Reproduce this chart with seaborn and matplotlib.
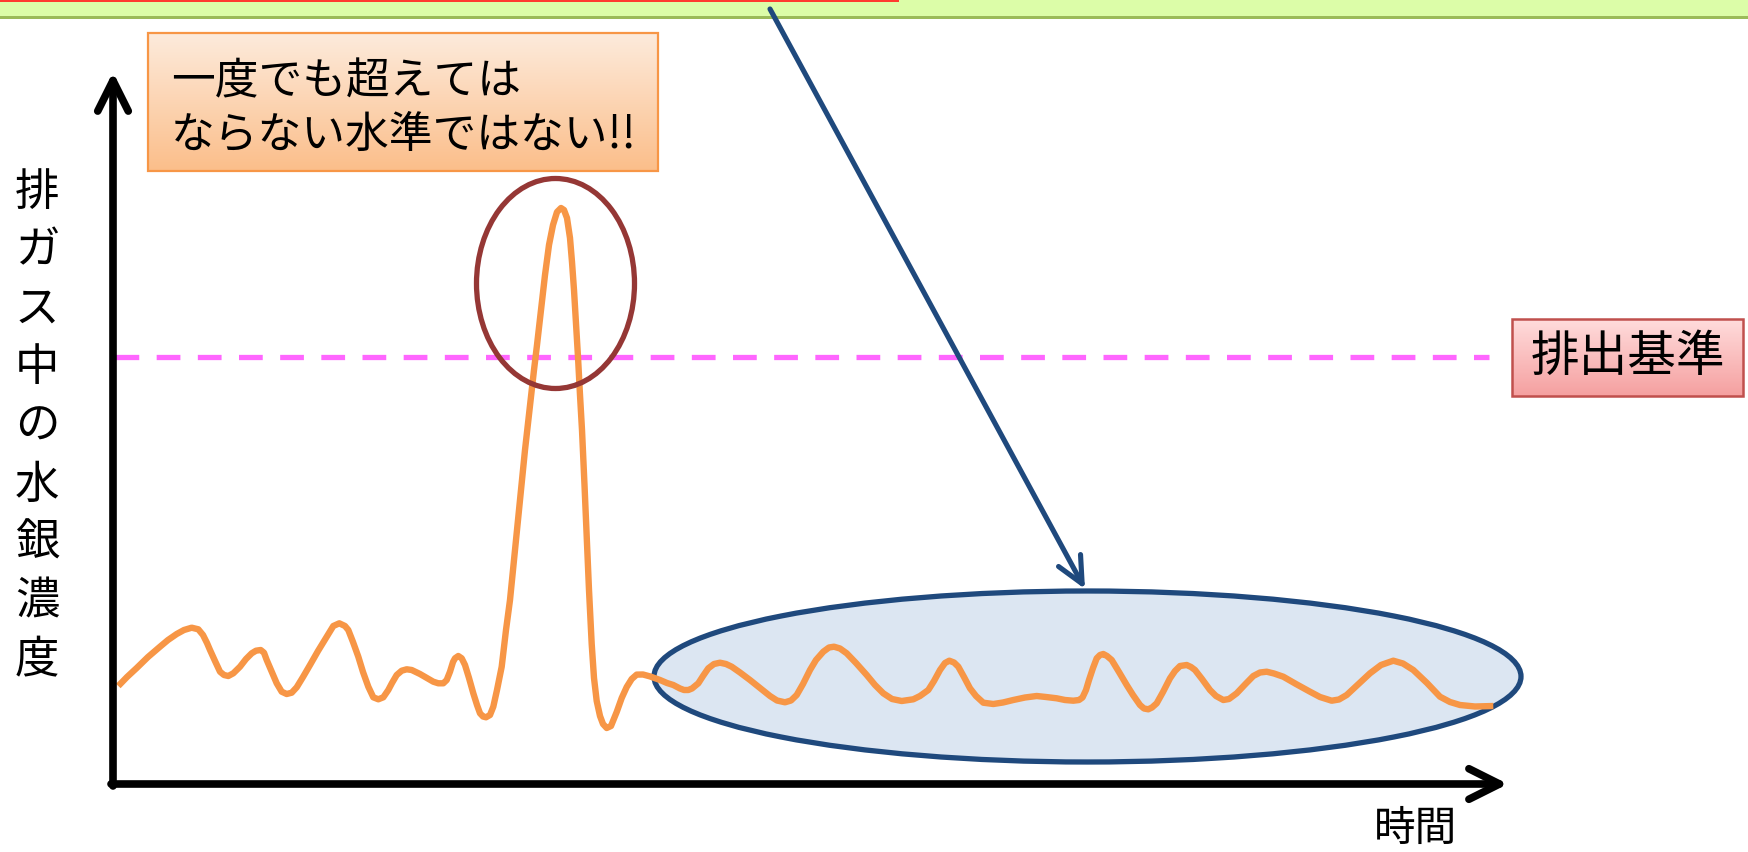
import numpy as np
import pandas as pd
import matplotlib
matplotlib.use("Agg")
import matplotlib.pyplot as plt
import matplotlib.colors as mcolors
from matplotlib.patches import Rectangle, Ellipse
import seaborn as sns

# Elapsed time and mercury concentration in flue gas (arbitrary units)
time = [
    5.3, 14, 23.7, 35, 47, 55, 63.7, 71, 78.7, 85.3,
    90, 94, 97, 102, 107, 111, 115.3, 120.3, 127, 133,
    138.7, 143, 147.7, 151, 153.7, 158, 163.7, 168.7, 173.7, 178.7,
    183.7, 190, 197, 205, 213.7, 220.3, 226.3, 232, 235.3, 240,
    245.3, 250, 255.3, 260.3, 265.3, 270.3, 275.3, 279, 283.7, 288.7,
    293.7, 298.7, 307, 314, 320.3, 325.3, 330.3, 333.7, 337, 340,
    342, 345.3, 348.7, 352, 356, 360.3, 364, 367, 370, 373,
    377, 380.3, 384, 388.7, 393, 397, 402, 407, 412, 417,
    421, 424, 428, 432, 436, 440, 444, 448, 451, 454,
    457, 459, 461, 463, 465, 467, 469, 471.5, 473.7, 476,
    478.7, 481, 483.7, 487, 490, 493.7, 498, 503.7, 508.7, 513.7,
    518.7, 523.7, 530, 537, 547, 554, 560.3, 567, 571, 575.3,
    579, 582, 585.3, 590, 595.3, 601, 607, 613, 618.7, 627,
    637, 647, 657, 664, 672, 678, 683.7, 690, 697, 703,
    710.3, 716, 721, 727, 733.7, 743, 753.7, 762, 770.3, 779,
    788.7, 800.3, 807, 815.3, 821, 827, 832, 836.3, 841, 845.3,
    851, 857, 863, 870.3, 880.3, 890, 900.3, 912, 923.7, 933,
    943.7, 952, 960.3, 966, 969.5, 973, 976, 980, 983.7, 987,
    990.3, 994, 998.7, 1006, 1013.7, 1020, 1027, 1031, 1035.3, 1039,
    1043.7, 1050, 1057, 1062, 1067, 1073.7, 1078, 1082, 1089, 1097,
    1103, 1110.3, 1116, 1123.7, 1132, 1140.3, 1147, 1153.7, 1161, 1170.3,
    1183, 1197, 1207, 1218.7, 1226, 1233.7, 1245, 1257, 1268, 1280.3,
    1290, 1300.3, 1314, 1327, 1337, 1347, 1362, 1380.3,
]
concentration = [
    98, 107, 116, 127, 137.3, 144, 150, 154, 156.3, 154.7,
    149, 141, 134, 123, 112.3, 109, 108, 110.7, 117.3, 125,
    130.7, 133.3, 134, 131.3, 124, 114, 100.7, 92.3, 90, 91.3,
    96.7, 107, 119, 133, 147.3, 158, 160.7, 158, 154, 142,
    127.3, 112, 97.3, 86.7, 84.7, 86.7, 94, 101, 109, 113.3,
    114.7, 114, 110, 106, 102.3, 100.7, 100.7, 104, 112.3, 122,
    125.7, 128, 125.7, 119, 106, 90.7, 79, 70.7, 67.5, 66.7,
    69, 77.3, 94, 117.3, 154, 184, 234, 284, 334, 379,
    414, 439, 474, 509, 539, 559, 572, 576, 574, 566,
    546, 522, 494, 461, 427, 389, 354, 299, 247, 194,
    140, 106, 83, 68, 60, 56, 58, 72, 86, 97,
    105, 109.4, 109.5, 107.6, 104, 101, 99, 95.5, 94, 94,
    95.5, 98, 100.7, 108, 115.7, 120, 121.3, 120, 117.3, 111.5,
    104, 96, 88, 83.5, 81.7, 83.5, 89, 100, 114, 124,
    132.3, 136.5, 137.3, 135.5, 130.7, 121, 109, 99, 90.7, 85,
    83, 84.7, 88, 94, 103, 114, 121, 123.3, 121.5, 117.3,
    107, 95.7, 88, 81.3, 80, 81.5, 84, 86.5, 88, 87,
    85.7, 84, 83.3, 84, 86.5, 94, 104, 116, 125.7, 129,
    130, 128, 124, 112, 99, 89, 79, 75.5, 74.7, 76.5,
    80.7, 92, 105.7, 113, 118, 119, 117, 114, 105, 94,
    88, 84, 85, 90.7, 99.5, 108, 111.5, 112.3, 110.5, 107.3,
    100, 92.3, 87, 83.3, 84.5, 89, 99.5, 110.7, 119, 123.3,
    120.5, 114, 101, 87.3, 82, 79, 77.5, 78,
]

limit_level = 427           # emission standard
time_axis_end = 1395
conc_axis_end = 712

y_label = "排ガス中の水銀濃度"
x_label = "時間"
limit_label = "排出基準"
callout_text = "一度でも超えては\nならない水準ではない!!"

df = pd.DataFrame({"time": time, "concentration": concentration})

sns.set_theme(style="white")
plt.rcParams["font.family"] = ["Noto Sans CJK JP", "DejaVu Sans"]

fig = plt.figure(figsize=(17.49, 8.52), dpi=100)
ax = fig.add_axes([0, 0, 1, 1])
ax.set_axis_off()

X_LIM = (-113, 1636)
Y_LIM = (-68, 784)


def gradient_box(x0, x1, y0, y1, top, bottom, edge, lw, z):
    g = np.linspace(0, 1, 256)[:, None, None]
    c_top = np.array(mcolors.to_rgb(top))
    c_bot = np.array(mcolors.to_rgb(bottom))
    img = c_top * (1 - g) + c_bot * g
    ax.imshow(img, extent=(x0, x1, y0, y1), origin="upper", aspect="auto",
              interpolation="bilinear", zorder=z)
    ax.add_patch(Rectangle((x0, y0), x1 - x0, y1 - y0, fill=False,
                           ec=edge, lw=lw, zorder=z + 0.1))


# slide header strip
ax.add_patch(Rectangle((0, 1 - 16 / 852), 1, 16 / 852, transform=ax.transAxes,
                       fc="#DCFDA8", ec="none", zorder=0))
ax.add_patch(Rectangle((0, 1 - 19 / 852), 1, 3 / 852, transform=ax.transAxes,
                       fc="#9BBB59", ec="none", zorder=0))
ax.add_patch(Rectangle((0, 1 - 2 / 852), 899 / 1749, 2 / 852, transform=ax.transAxes,
                       fc="#FF3B2F", ec="none", zorder=0))

# steady-state region highlight
ax.add_patch(Ellipse((974.5, 107.5), 867, 171, fc="#DCE6F2", ec="#1F497D",
                     lw=3.8, zorder=1))

# emission standard line
ax.hlines(limit_level, 2, 1376, colors="#FF66FF", lw=3.8,
          linestyles=[(0, (4.5, 3.3))], zorder=2)

# concentration trace
sns.lineplot(data=df, x="time", y="concentration", ax=ax, color="#F79646",
             linewidth=4.6, estimator=None, sort=False, zorder=3,
             solid_joinstyle="round", solid_capstyle="butt")

# peak highlight
ax.add_patch(Ellipse((442.5, 500.5), 158, 210, fill=False, ec="#953735",
                     lw=3.8, zorder=4))

# axes drawn as arrows
axis_arrow = dict(arrowstyle="->,head_length=1.0,head_width=0.5",
                  mutation_scale=22, lw=5.5, color="black",
                  shrinkA=0, shrinkB=0, capstyle="round", joinstyle="round")
ax.annotate("", xy=(0, conc_axis_end), xytext=(0, -2), arrowprops=axis_arrow, zorder=6)
ax.annotate("", xy=(time_axis_end, 0), xytext=(-2, 0), arrowprops=axis_arrow, zorder=6)

# pointer into the steady-state region
ax.annotate("", xy=(972, 195), xytext=(657, 775),
            arrowprops=dict(arrowstyle="->,head_length=0.95,head_width=0.45",
                            mutation_scale=20, lw=3.7, color="#1F497D",
                            shrinkA=0, shrinkB=0, capstyle="round"),
            zorder=7)

# callout box
gradient_box(35, 545, 613, 751, "#FDEBDC", "#FBBE8A", "#F79646", 1.6, 8)
ax.text(58, 676, callout_text, fontsize=31.5, color="black", ha="left",
        va="center", linespacing=1.22, zorder=9)

# emission standard label
gradient_box(1399.5, 1630, 388, 465, "#FFDCDC", "#F5A0A0", "#C0504D", 1.8, 8)
ax.text(1514.7, limit_level, limit_label, fontsize=35, color="black",
        ha="center", va="center", zorder=9)

# vertical y-axis label
for i, ch in enumerate(y_label):
    ax.text(-76, 592 - 58.5 * i, ch, fontsize=32, color="black",
            ha="center", va="center", zorder=9)

# x-axis label
ax.text(1303, -45, x_label, fontsize=30, color="black",
        ha="center", va="center", zorder=9)

ax.set_xlim(*X_LIM)
ax.set_ylim(*Y_LIM)

fig.savefig("out.png", dpi=100)
